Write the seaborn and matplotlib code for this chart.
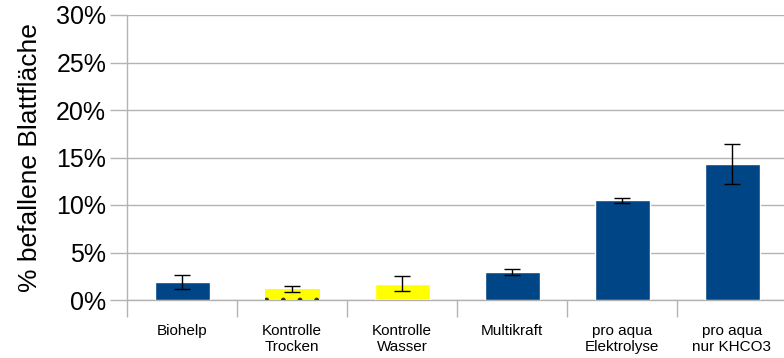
import matplotlib
matplotlib.use("Agg")
import matplotlib.pyplot as plt
import seaborn as sns
import pandas as pd
from matplotlib.ticker import PercentFormatter

# data (percent of infected leaf area)
categories = ["Biohelp", "Kontrolle\nTrocken", "Kontrolle\nWasser", "Multikraft",
              "pro aqua\nElektrolyse", "pro aqua\nnur KHCO3"]
values = [1.9, 1.15, 1.7, 2.95, 10.5, 14.3]
errors = [0.75, 0.3, 0.8, 0.35, 0.25, 2.1]
colors = ["#004586", "#ffff00", "#ffff00", "#004586", "#004586", "#004586"]

df = pd.DataFrame({"cat": categories, "val": values})

sns.set_style("white")
plt.rcParams["font.family"] = ["Liberation Sans", "DejaVu Sans"]
plt.rcParams["text.color"] = "black"
plt.rcParams["xtick.color"] = "black"
plt.rcParams["ytick.color"] = "black"
plt.rcParams["axes.labelcolor"] = "black"

fig = plt.figure(figsize=(7.84, 3.58), dpi=100)
ax = fig.add_axes([127 / 784, 58 / 358, 660 / 784, 285 / 358])

sns.barplot(data=df, x="cat", y="val", hue="cat", palette=colors, legend=False,
            width=0.5, saturation=1, ax=ax, zorder=3)
ax.errorbar(range(len(values)), values, yerr=errors, fmt="none", ecolor="black",
            elinewidth=1, capsize=5.5, capthick=1, zorder=4)

# dotted pattern on "Kontrolle Trocken"
ax.patches[1].set_hatch(".")
ax.patches[1].set_edgecolor("#333333")
ax.patches[1].set_linewidth(0)

ax.set_ylim(0, 30)
ax.set_yticks(range(0, 31, 5))
ax.yaxis.set_major_formatter(PercentFormatter(decimals=0))
ax.set_xlim(-0.5, 5.5)
ax.grid(axis="y", color="#b3b3b3", linewidth=1, zorder=0)

ax.set_xticks([i - 0.5 for i in range(7)], minor=False)
ax.set_xticklabels([])
ax.set_xticks(range(6), minor=True)
ax.set_xticklabels(categories, minor=True, fontsize=11)
ax.tick_params(axis="x", which="major", bottom=True, length=12, width=1,
               color="#b3b3b3", direction="out")
ax.tick_params(axis="x", which="minor", bottom=True, length=0, pad=17)
ax.tick_params(axis="y", left=True, length=12, width=1, color="#b3b3b3",
               direction="out", labelsize=18, pad=3)

for s in ["top", "right"]:
    ax.spines[s].set_visible(False)
for s in ["left", "bottom"]:
    ax.spines[s].set_color("#b3b3b3")
    ax.spines[s].set_linewidth(1)

ax.set_xlabel("")
ax.set_ylabel("% befallene Blattfläche", fontsize=19, labelpad=10)

plt.savefig("out.png", dpi=100)
plt.close()
